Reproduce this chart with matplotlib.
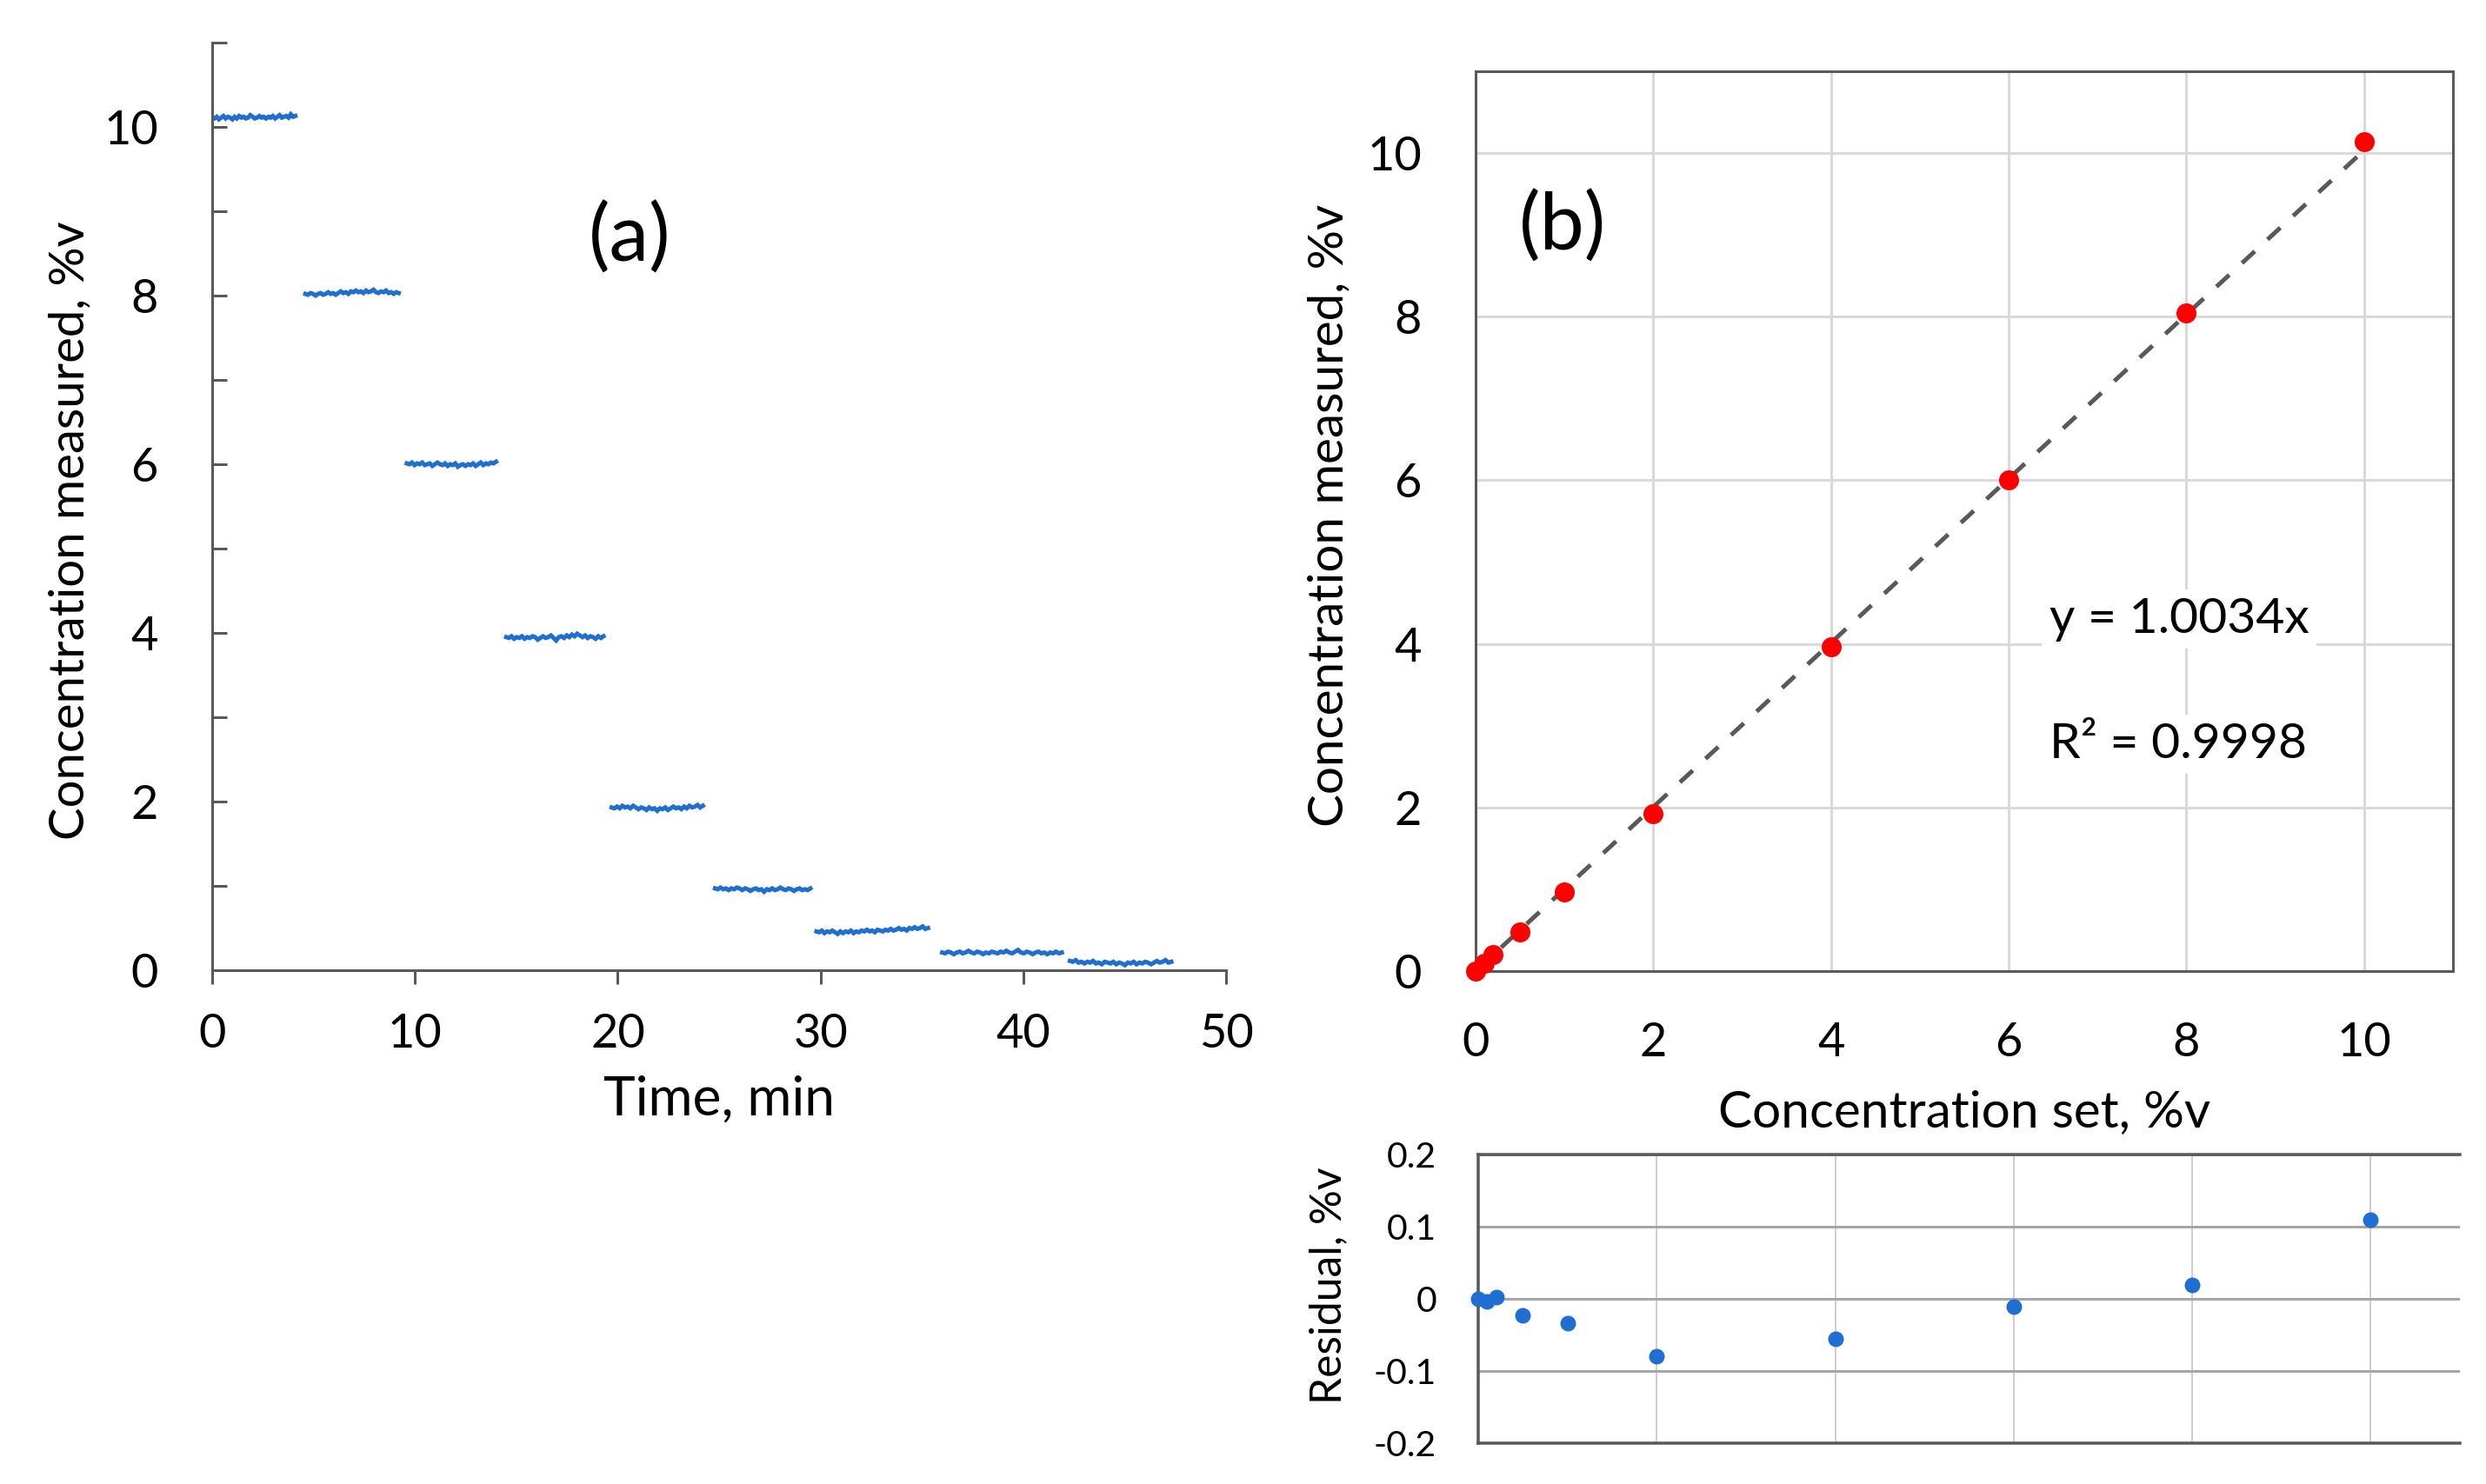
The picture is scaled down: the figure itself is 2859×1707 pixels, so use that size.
import numpy as np
import matplotlib
matplotlib.use("Agg")
import matplotlib.pyplot as plt

W, H, DPI = 2859, 1707, 100

# ---------------- data: panel (a) time trace (readings per concentration step) ----------------
seg_start = [0.0, 4.6, 9.6, 14.5, 19.7, 24.8, 29.8, 36.0, 42.3]
seg_end = [4.1, 9.2, 14.0, 19.3, 24.2, 29.5, 35.3, 41.9, 47.3]
step_10 = [10.11, 10.10, 10.12, 10.09, 10.11, 10.13, 10.10, 10.12, 10.11, 10.09, 10.12, 10.10, 10.13,
           10.11, 10.12, 10.10, 10.11, 10.14, 10.12, 10.10, 10.11, 10.13, 10.11, 10.12, 10.10, 10.12,
           10.11, 10.13, 10.10, 10.12, 10.14, 10.11, 10.12, 10.13, 10.11, 10.15, 10.12, 10.13]
step_8 = [8.02, 8.01, 8.03, 8.02, 8.00, 8.02, 8.03, 8.01, 8.02, 8.04, 8.02, 8.03, 8.01, 8.03, 8.05,
          8.03, 8.04, 8.02, 8.05, 8.04, 8.06, 8.04, 8.05, 8.03, 8.06, 8.04, 8.05, 8.07, 8.04, 8.03,
          8.05, 8.04, 8.06, 8.03, 8.04, 8.02, 8.04, 8.03]
step_6 = [6.01, 6.00, 6.02, 5.99, 6.01, 6.00, 6.02, 5.99, 6.00, 6.01, 5.98, 6.00, 6.02, 6.00, 5.99,
          6.01, 5.98, 6.00, 5.99, 6.01, 5.97, 5.99, 6.00, 5.98, 6.00, 5.99, 6.01, 5.98, 6.00, 6.02,
          5.99, 6.01, 6.00, 6.02, 6.01, 6.03]
step_4 = [3.95, 3.94, 3.96, 3.93, 3.95, 3.94, 3.96, 3.93, 3.95, 3.94, 3.96, 3.95, 3.92, 3.94, 3.96,
          3.94, 3.95, 3.97, 3.94, 3.91, 3.95, 3.96, 3.94, 3.97, 3.95, 3.98, 3.96, 3.99, 3.97, 3.95,
          3.97, 3.94, 3.96, 3.95, 3.93, 3.96, 3.94, 3.96]
step_2 = [1.93, 1.92, 1.94, 1.92, 1.95, 1.93, 1.94, 1.92, 1.95, 1.93, 1.91, 1.93, 1.92, 1.90, 1.93,
          1.91, 1.92, 1.89, 1.92, 1.91, 1.93, 1.90, 1.92, 1.94, 1.92, 1.93, 1.91, 1.94, 1.92, 1.95,
          1.93, 1.94, 1.96, 1.93, 1.95]
step_1 = [0.97, 0.96, 0.98, 0.96, 0.97, 0.95, 0.97, 0.96, 0.98, 0.97, 0.95, 0.97, 0.96, 0.94, 0.96,
          0.97, 0.95, 0.96, 0.93, 0.96, 0.95, 0.97, 0.95, 0.96, 0.98, 0.96, 0.95, 0.97, 0.96, 0.94,
          0.96, 0.97, 0.95, 0.96, 0.95, 0.97]
step_05 = [0.46, 0.45, 0.47, 0.44, 0.46, 0.45, 0.47, 0.45, 0.43, 0.46, 0.44, 0.46, 0.45, 0.47, 0.44,
           0.46, 0.45, 0.47, 0.46, 0.48, 0.46, 0.47, 0.45, 0.48, 0.47, 0.46, 0.48, 0.47, 0.49, 0.47,
           0.48, 0.50, 0.48, 0.49, 0.47, 0.50, 0.49, 0.51, 0.49, 0.50, 0.52, 0.49, 0.50]
step_02 = [0.21, 0.20, 0.22, 0.21, 0.19, 0.21, 0.22, 0.20, 0.21, 0.23, 0.21, 0.20, 0.22, 0.21, 0.19,
           0.21, 0.20, 0.22, 0.21, 0.20, 0.22, 0.21, 0.23, 0.21, 0.20, 0.22, 0.24, 0.21, 0.20, 0.22,
           0.21, 0.19, 0.21, 0.22, 0.20, 0.21, 0.19, 0.21, 0.20, 0.22, 0.20, 0.21]
step_01 = [0.11, 0.10, 0.12, 0.09, 0.10, 0.08, 0.10, 0.09, 0.11, 0.08, 0.09, 0.07, 0.10, 0.09, 0.08,
           0.10, 0.07, 0.09, 0.08, 0.06, 0.09, 0.08, 0.10, 0.07, 0.09, 0.08, 0.10, 0.09, 0.07, 0.09,
           0.11, 0.09, 0.10, 0.12, 0.09, 0.10]
steps = [step_10, step_8, step_6, step_4, step_2, step_1, step_05, step_02, step_01]

# ---------------- data: panel (b) calibration ----------------
conc_set = [0, 0.1, 0.2, 0.5, 1, 2, 4, 6, 8, 10]
conc_measured = [0.0, 0.095, 0.203, 0.479, 0.969, 1.928, 3.959, 6.009, 8.046, 10.144]
residual = [0.0, -0.004, 0.002, -0.023, -0.034, -0.079, -0.055, -0.011, 0.019, 0.110]
fit_slope = 1.0034
fit_x = [0, 10]
eq_text = "y = 1.0034x"
r2_text = "R² = 0.9998"

# ---------------- style ----------------
plt.rcParams['font.family'] = ['Lato', 'DejaVu Sans']
BLUE = '#1f6fd2'
SPINE = '#595959'
GRID = '#d9d9d9'
PX = 72.0 / DPI  # points per pixel

fig = plt.figure(figsize=(W / DPI, H / DPI), dpi=DPI)
renderer = fig.canvas.get_renderer()


def rect(l, t, r, b):
    return [l / W, 1 - b / H, (r - l) / W, (b - t) / H]


def fpos(x, y):
    return x / W, 1 - y / H


def fit_label(txt, length_px, vertical=False):
    """Scale a text's font size so that its long side spans length_px pixels."""
    for _ in range(3):
        bb = txt.get_window_extent(renderer)
        cur = bb.height if vertical else bb.width
        txt.set_fontsize(txt.get_fontsize() * length_px / cur)


# ---------------- panel (a) ----------------
ax_a = fig.add_axes(rect(244, 49, 1410, 1116))
for s, e, vals in zip(seg_start, seg_end, steps):
    t = np.linspace(s, e, len(vals))
    ax_a.plot(t, vals, color=BLUE, lw=3.6, solid_joinstyle='miter')
ax_a.set_xlim(0, 50)
ax_a.set_ylim(0, 11)
ax_a.set_xticks(range(0, 51, 10))
ax_a.set_yticks(range(0, 12))
ax_a.set_yticklabels([str(v) if v % 2 == 0 and v <= 10 else '' for v in range(0, 12)])
for sp in ['top', 'right']:
    ax_a.spines[sp].set_visible(False)
for sp in ['left', 'bottom']:
    ax_a.spines[sp].set_color(SPINE)
    ax_a.spines[sp].set_linewidth(3 * PX)
ax_a.tick_params(axis='y', direction='in', length=17 * PX, width=3 * PX, color=SPINE,
                 pad=62 * PX, labelsize=39)
ax_a.tick_params(axis='x', direction='out', length=16 * PX, width=3 * PX, color=SPINE,
                 pad=33 * PX, labelsize=39)
t1 = fig.text(*fpos(81, 610), "Concentration measured, %v", rotation=90, ha='center',
              va='center', fontsize=41)
fit_label(t1, 712, vertical=True)
t2 = fig.text(*fpos(827, 1265), "Time, min", ha='center', va='center', fontsize=44)
fit_label(t2, 266)
fig.text(*fpos(724, 274), "(a)", ha='center', va='center', fontsize=66)

# ---------------- panel (b) ----------------
ax_b = fig.add_axes(rect(1697, 82, 2821, 1117))
ax_b.plot(fit_x, [fit_slope * v for v in fit_x], color=SPINE, lw=5 * PX,
          dashes=(4, 4), dash_capstyle='butt', zorder=3)
ax_b.plot(conc_set, conc_measured, 'o', color='#ff0000', ms=23 * PX, mew=0, zorder=4,
          clip_on=False)
ax_b.set_xlim(0, 11)
ax_b.set_ylim(0, 11)
ax_b.set_xticks(range(0, 11, 2))
ax_b.set_yticks(range(0, 11, 2))
ax_b.grid(True, color=GRID, lw=3 * PX)
ax_b.set_axisbelow(True)
for sp in ax_b.spines.values():
    sp.set_color(SPINE)
    sp.set_linewidth(3 * PX)
ax_b.tick_params(axis='both', length=0, labelsize=39)
ax_b.tick_params(axis='y', pad=62 * PX)
ax_b.tick_params(axis='x', pad=58 * PX)
t3 = fig.text(*fpos(1529, 593), "Concentration measured, %v", rotation=90, ha='center',
              va='center', fontsize=41)
fit_label(t3, 716, vertical=True)
t4 = fig.text(*fpos(2259, 1280), "Concentration set, %v", ha='center', va='center', fontsize=42.5)
fit_label(t4, 566)
fig.text(*fpos(1797, 261), "(b)", ha='center', va='center', fontsize=66)
bbox = dict(facecolor='white', edgecolor='none', pad=6)
fig.text(*fpos(2357, 712), eq_text, ha='left', va='center', fontsize=41, bbox=bbox, zorder=5)
fig.text(*fpos(2357, 856), r2_text, ha='left', va='center', fontsize=41, bbox=bbox, zorder=5)

# ---------------- residual panel ----------------
ax_r = fig.add_axes(rect(1700, 1328, 2829, 1660))
ax_r.plot(conc_set, residual, 'o', color=BLUE, ms=18 * PX, mew=0, zorder=4, clip_on=False)
ax_r.set_xlim(0, 11)
ax_r.set_ylim(-0.2, 0.2)
ax_r.set_xticks(range(0, 11, 2))
ax_r.set_yticks([-0.2, -0.1, 0, 0.1, 0.2])
ax_r.set_yticklabels(['-0.2', '-0.1', '0', '0.1', '0.2'])
ax_r.set_xticklabels([])
ax_r.grid(True, axis='x', color='#cfcfcf', lw=2 * PX)
ax_r.grid(True, axis='y', color='#a6a6a6', lw=3 * PX)
ax_r.set_axisbelow(True)
ax_r.spines['right'].set_visible(False)
for sp in ['left', 'top', 'bottom']:
    ax_r.spines[sp].set_color(SPINE)
    ax_r.spines[sp].set_linewidth(3.5 * PX)
ax_r.tick_params(axis='both', length=0, labelsize=29.5)
ax_r.tick_params(axis='y', pad=48 * PX)
t5 = fig.text(*fpos(1528, 1479), "Residual, %v", rotation=90, ha='center', va='center',
              fontsize=34.5)
fit_label(t5, 272, vertical=True)

fig.savefig("out.png", dpi=DPI, facecolor='white')
